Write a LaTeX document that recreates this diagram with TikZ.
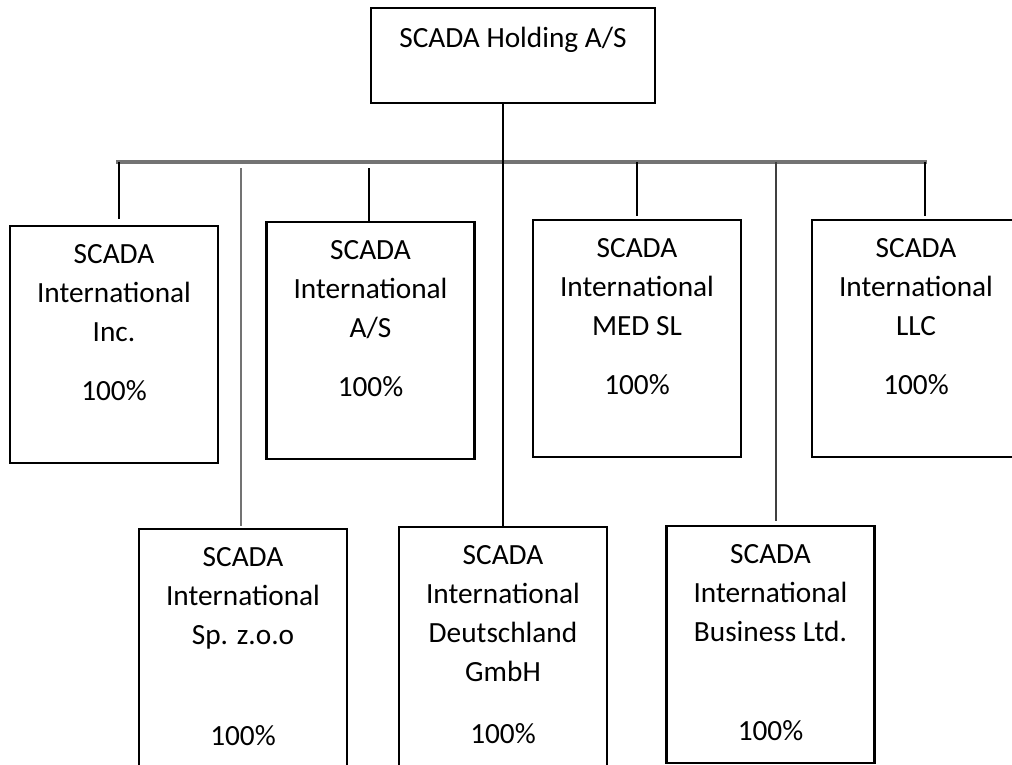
\documentclass[tikz,border=0pt]{standalone}
\usepackage{fontspec}
\setmainfont{Carlito}
\usepackage{tikz}
\usetikzlibrary{positioning}

\tikzset{
  orgbox/.style={draw=black, line width=2.2pt, minimum width=208pt, minimum height=237pt, inner sep=0pt},
  orgtext/.style={inner sep=0pt, align=center, font=\fontsize{29.3pt}{39pt}\selectfont},
  link/.style={line width=2.2pt, black},
  greylink/.style={line width=2.6pt, black!55}
}

\begin{document}
\begin{tikzpicture}[x=1pt,y=-1pt]
            \useasboundingbox (0,0) rectangle (1012,765);
            \clip (0,0) rectangle (1012,765);

            % holding company
            \node[orgbox, minimum width=284pt, minimum height=95pt] (hold) at (513,55.5) {};
            \node[orgtext, below=20pt of hold.north] (holdT) {SCADA Holding A/S};

            % upper row
            \node[orgbox] (inc) at (114,344.5) {};
            \node[orgtext, below=19pt of inc.north] (incT) {SCADA\\International\\Inc.\\[20pt]100\%};
            \node[orgbox] (as) at (370.5,340.5) {};
            \node[orgtext, below=19pt of as.north] (asT) {SCADA\\International\\A/S\\[20pt]100\%};
            \node[orgbox] (med) at (637,338.5) {};
            \node[orgtext, below=19pt of med.north] (medT) {SCADA\\International\\MED SL\\[20pt]100\%};
            \node[orgbox] (llc) at (916,338.5) {};
            \node[orgtext, below=19pt of llc.north] (llcT) {SCADA\\International\\LLC\\[20pt]100\%};

            % lower row
            \node[orgbox, minimum height=240pt] (sp) at (243,649) {};
            \node[orgtext, below=19pt of sp.north] (spT) {SCADA\\International\\Sp. z.o.o\\[62pt]100\%};
            \node[orgbox, minimum height=240pt] (de) at (503,647) {};
            \node[orgtext, below=19pt of de.north] (deT) {SCADA\\International\\Deutschland\\GmbH\\[23pt]100\%};
            \node[orgbox] (bus) at (770.5,644.5) {};
            \node[orgtext, below=19pt of bus.north] (busT) {SCADA\\International\\Business Ltd.\\[60pt]100\%};

            % connectors
            \coordinate (busL) at (116,162);
            \coordinate (busR) at (927,162);
            \coordinate (dInc) at (119,162);
            \coordinate (dSp) at (241,168);
            \coordinate (dAs) at (369,168);
            \coordinate (dMed) at (637,162);
            \coordinate (dBus) at (776,162);
            \coordinate (dLlc) at (925,162);

            \draw[line width=3.2pt, black!55] (busL) -- (busR);
            \draw[link] (hold.south -| de.north) -- (de.north);
            \draw[link, shorten >=6pt] (dInc) -- (dInc |- inc.north);
            \draw[greylink, shorten >=2pt] (dSp) -- (dSp |- sp.north);
            \draw[link] (dAs) -- (dAs |- as.north);
            \draw[link, shorten >=3pt] (dMed) -- (dMed |- med.north);
            \draw[greylink, black!75, shorten >=4pt] (dBus) -- (dBus |- bus.north);
            \draw[link, shorten >=3pt] (dLlc) -- (dLlc |- llc.north);
        \end{tikzpicture}
\end{document}
